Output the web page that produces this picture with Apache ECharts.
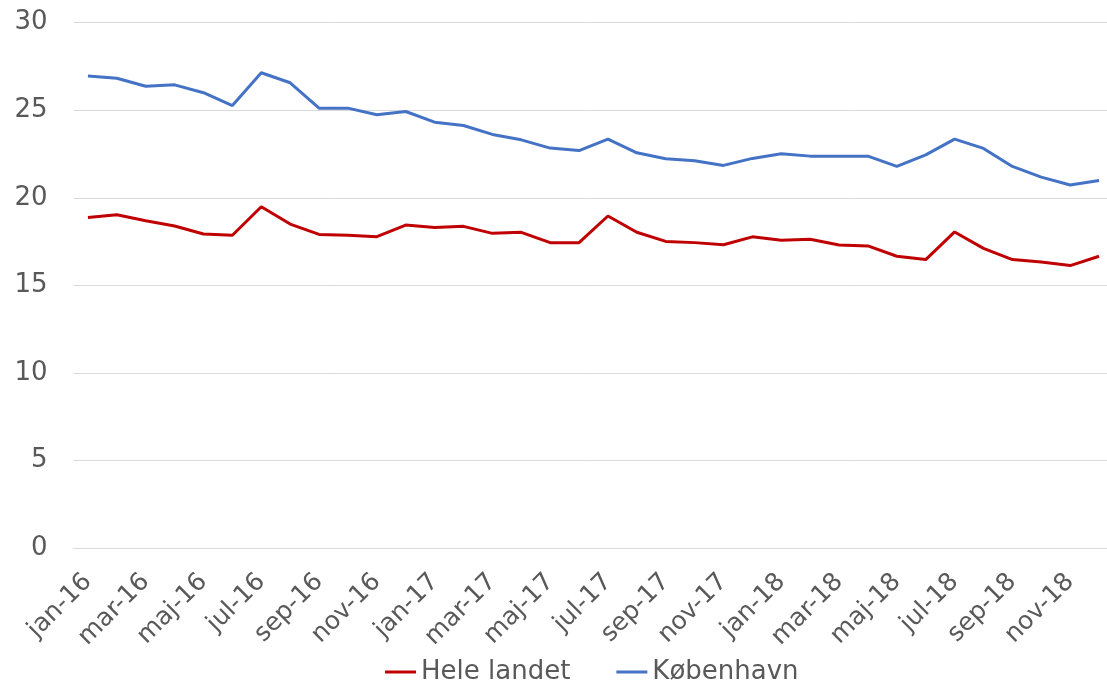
<!DOCTYPE html>
<html>
<head>
<meta charset="utf-8">
<script src="https://cdn.jsdelivr.net/npm/echarts@6/dist/echarts.min.js"></script>
<style>
html,body{margin:0;padding:0;background:#fff;overflow:hidden;}
#chart{width:1107px;height:684px;}
</style>
</head>
<body>
<div id="chart"></div>
<script>
const categories = ['jan-16','feb-16','mar-16','apr-16','maj-16','jun-16','jul-16','aug-16','sep-16','okt-16','nov-16','dec-16',
  'jan-17','feb-17','mar-17','apr-17','maj-17','jun-17','jul-17','aug-17','sep-17','okt-17','nov-17','dec-17',
  'jan-18','feb-18','mar-18','apr-18','maj-18','jun-18','jul-18','aug-18','sep-18','okt-18','nov-18','dec-18'];
const heleLandet = [18.88, 19.03, 18.69, 18.39, 17.93, 17.86, 19.49, 18.5, 17.91, 17.86, 17.78, 18.44,
  18.31, 18.37, 17.97, 18.03, 17.44, 17.44, 18.96, 18.03, 17.51, 17.44, 17.32, 17.77,
  17.57, 17.63, 17.3, 17.25, 16.66, 16.47, 18.05, 17.11, 16.47, 16.33, 16.13, 16.66];
const koebenhavn = [26.96, 26.83, 26.37, 26.45, 26.0, 25.27, 27.14, 26.57, 25.12, 25.12, 24.74, 24.93,
  24.32, 24.13, 23.62, 23.31, 22.84, 22.7, 23.35, 22.57, 22.23, 22.12, 21.85, 22.25,
  22.51, 22.38, 22.38, 22.38, 21.79, 22.45, 23.35, 22.82, 21.79, 21.18, 20.73, 20.99];
const seriesNames = ['Hele landet', 'København'];
const yTicks = {min: 0, max: 30, interval: 5};

const font = '"DejaVu Sans", "Open Sans", sans-serif';
const chart = echarts.init(document.getElementById('chart'), null, {renderer: 'canvas'});
chart.setOption({
  animation: false,
  grid: {left: 73.5, width: 1040, top: 22.7, height: 525.3, containLabel: false, outerBoundsMode: 'none'},
  legend: {
    data: seriesNames,
    top: 654,
    left: 380,
    icon: 'rect',
    itemWidth: 31,
    itemHeight: 3,
    itemGap: 46,
    textStyle: {color: '#595959', fontSize: 26, fontFamily: font}
  },
  xAxis: {
    type: 'category',
    data: categories,
    boundaryGap: true,
    axisLine: {show: true, lineStyle: {color: '#d9d9d9', width: 1}},
    axisTick: {show: false},
    axisLabel: {
      interval: 1,
      rotate: 45,
      margin: 30,
      color: '#595959',
      fontSize: 25,
      fontFamily: font
    }
  },
  yAxis: {
    type: 'value',
    min: yTicks.min,
    max: yTicks.max,
    interval: yTicks.interval,
    axisLine: {show: false},
    axisTick: {show: false},
    splitLine: {lineStyle: {color: '#d9d9d9', width: 1}},
    axisLabel: {color: '#595959', fontSize: 26, fontFamily: font, margin: 26}
  },
  series: [
    {name: seriesNames[0], type: 'line', data: heleLandet, symbol: 'none', lineStyle: {color: '#C00000', width: 3}, itemStyle: {color: '#C00000'}},
    {name: seriesNames[1], type: 'line', data: koebenhavn, symbol: 'none', lineStyle: {color: '#4472C4', width: 3}, itemStyle: {color: '#4472C4'}}
  ]
});
</script>
</body>
</html>
